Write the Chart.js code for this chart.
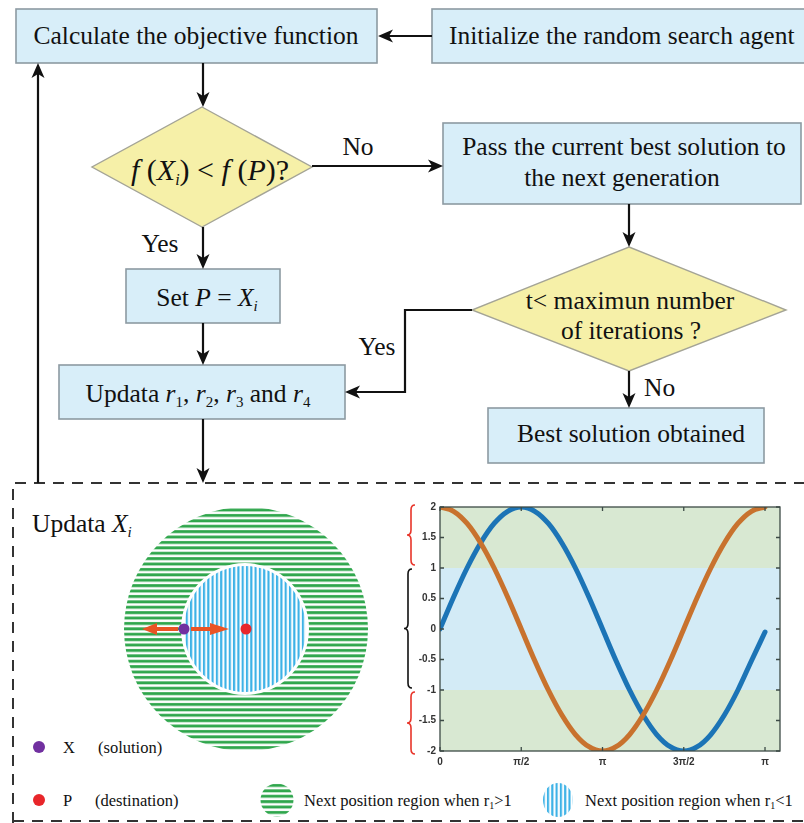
<!DOCTYPE html>
<html><head><meta charset="utf-8">
<script src="https://cdn.jsdelivr.net/npm/chart.js@4"></script>
<style>
html,body{margin:0;padding:0;background:#fff;width:804px;height:823px;overflow:hidden}
#flow{position:absolute;left:0;top:0}
#chartBox{position:absolute;left:400px;top:495px;width:404px;height:285px}
</style></head><body>
<svg id="flow" width="804" height="823" xmlns="http://www.w3.org/2000/svg" font-family="'Liberation Serif','Times New Roman',serif" fill="#111">
<defs>
  <pattern id="hs" patternUnits="userSpaceOnUse" width="12" height="5.4"><rect x="0" y="1" width="12" height="2.9" fill="#2fa64c"/></pattern>
  <pattern id="vs" patternUnits="userSpaceOnUse" width="4.3" height="12"><rect x="0.8" y="0" width="2.2" height="12" fill="#3db2e6"/></pattern>
  <mask id="hole"><rect x="0" y="480" width="804" height="343" fill="#fff"/><ellipse cx="245" cy="629" rx="64" ry="66" fill="#000"/></mask>
</defs>
<g id="shapes"></g>
<g id="t1" font-size="25.5">
  <text x="196" y="44" text-anchor="middle">Calculate the objective function</text>
  <text x="449" y="44">Initialize the random search agent</text>
  <text x="358" y="155" text-anchor="middle">No</text>
  <text x="624" y="155" text-anchor="middle">Pass the current best solution to</text>
  <text x="622" y="186" text-anchor="middle">the next generation</text>
  <text x="210" y="180" text-anchor="middle" font-size="30"><tspan font-style="italic">f</tspan> (<tspan font-style="italic">X</tspan><tspan font-style="italic" font-size="16" dy="5">i</tspan><tspan dy="-5">) &lt; </tspan><tspan font-style="italic">f</tspan> (<tspan font-style="italic">P</tspan>)?</text>
  <text x="160" y="252" text-anchor="middle">Yes</text>
  <text x="207" y="306" text-anchor="middle">Set <tspan font-style="italic">P</tspan> = <tspan font-style="italic">X</tspan><tspan font-style="italic" font-size="15" dy="5">i</tspan></text>
  <text x="630" y="309" text-anchor="middle">t&lt; maximun number</text>
  <text x="631" y="339" text-anchor="middle">of iterations ?</text>
  <text x="377" y="355" text-anchor="middle">Yes</text>
  <text x="198" y="402" text-anchor="middle">Updata <tspan font-style="italic">r</tspan><tspan font-size="15" dy="5">1</tspan><tspan dy="-5">,  </tspan><tspan font-style="italic">r</tspan><tspan font-size="15" dy="5">2</tspan><tspan dy="-5">,  </tspan><tspan font-style="italic">r</tspan><tspan font-size="15" dy="5">3</tspan><tspan dy="-5"> and </tspan><tspan font-style="italic">r</tspan><tspan font-size="15" dy="5">4</tspan></text>
  <text x="644" y="396">No</text>
  <text x="631" y="442" text-anchor="middle">Best  solution obtained</text>
  <text x="32" y="532">Updata <tspan font-style="italic">X</tspan><tspan font-style="italic" font-size="15" dy="5">i</tspan></text>
</g>
<g id="t2" font-size="16.5">
  <text x="63" y="753">X</text>
  <text x="98" y="753">(solution)</text>
  <text x="63" y="806">P</text>
  <text x="95" y="806">(destination)</text>
  <text x="304" y="806">Next position region when r<tspan font-size="10" dy="3">1</tspan><tspan dy="-3">&gt;1</tspan></text>
  <text x="585" y="806">Next position region when r<tspan font-size="10" dy="3">1</tspan><tspan dy="-3">&lt;1</tspan></text>
</g>
</svg>
<div id="chartBox"><canvas id="c"></canvas></div>
<script>
// ---- data ----
const xDegrees = [0,15,30,45,60,75,90,105,120,135,150,165,180,195,210,225,240,255,270,285,300,315,330,345,360];
const blueSeries = [0,0.52,1.00,1.41,1.73,1.93,2.00,1.93,1.73,1.41,1.00,0.52,0.00,-0.52,-1.00,-1.41,-1.73,-1.93,-2.00,-1.93,-1.73,-1.41,-1.00,-0.52,-0.05];
const orangeSeries = [2.00,1.93,1.73,1.41,1.00,0.52,0.00,-0.52,-1.00,-1.41,-1.73,-1.93,-2.00,-1.93,-1.73,-1.41,-1.00,-0.52,0.00,0.52,1.00,1.41,1.73,1.93,2.00];
const xTickValues = [0,90,180,270,360];
const xTickLabels = ['0','\u03c0/2','\u03c0','3\u03c0/2','\u03c0'];
const yTickValues = [2,1.5,1,0.5,0,-0.5,-1,-1.5,-2];
const bandEdges = [2,1,-1,-2];

// ---- flowchart shapes ----
const NS='http://www.w3.org/2000/svg';
const g=document.getElementById('shapes');
function el(tag,attrs){const e=document.createElementNS(NS,tag);for(const k in attrs)e.setAttribute(k,attrs[k]);g.appendChild(e);return e;}
function box(x1,y1,x2,y2){el('rect',{x:x1,y:y1,width:x2-x1,height:y2-y1,fill:'#d8eef9',stroke:'#8d9aa2','stroke-width':1.6});}
function diamond(cx,cy,hw,ht,hb){el('polygon',{points:`${cx},${cy-ht} ${cx+hw},${cy} ${cx},${cy+hb} ${cx-hw},${cy}`,fill:'#f6f0a8',stroke:'#a4a496','stroke-width':1.4});}
function arrow(pts){
  const n=pts.length;const [tx,ty]=pts[n-1];const [px,py]=pts[n-2];
  let dx=tx-px,dy=ty-py;const len=Math.hypot(dx,dy);dx/=len;dy/=len;
  const L=15,W=6.5,N=4;const nx=-dy,ny=dx;
  const pl=pts.slice(0,n-1).concat([[tx-(L-N)*dx,ty-(L-N)*dy]]);
  el('polyline',{points:pl.map(p=>p.join(',')).join(' '),fill:'none',stroke:'#111','stroke-width':2.2});
  el('polygon',{points:`${tx},${ty} ${tx-L*dx+W*nx},${ty-L*dy+W*ny} ${tx-(L-N)*dx},${ty-(L-N)*dy} ${tx-L*dx-W*nx},${ty-L*dy-W*ny}`,fill:'#111'});
}
el('path',{d:'M13,823 L13,483 L804,483 M13,821 L804,821',fill:'none',stroke:'#333','stroke-width':2,'stroke-dasharray':'11 8'});
el('circle',{cx:246,cy:629,r:122,fill:'url(#hs)',mask:'url(#hole)'});
el('ellipse',{cx:245,cy:629,rx:61,ry:63,fill:'url(#vs)'});
el('polygon',{points:'178,627 157,627 157,623 142,629 157,635 157,631 178,631',fill:'#ea5424'});
el('polygon',{points:'191,627 210,627 210,623 229,629 210,635 210,631 191,631',fill:'#ea5424'});
el('circle',{cx:184,cy:629,r:5.5,fill:'#7130a0'});
el('circle',{cx:246,cy:629,r:5.5,fill:'#e8262a'});
el('circle',{cx:39,cy:747,r:6,fill:'#7130a0'});
el('circle',{cx:39,cy:800,r:6,fill:'#e8262a'});
el('circle',{cx:277,cy:800,r:16.5,fill:'url(#hs)'});
el('ellipse',{cx:558,cy:800,rx:15,ry:17,fill:'url(#vs)'});
box(16,9,377,63);
box(432,9,808,63);
box(443,123,801,204);
box(126,269,280,323);
box(59,365,345,419);
box(488,408,764,463);
diamond(202,167,110,60,60);
diamond(629,310,157,63,61);
arrow([[432,36],[378,36]]);
arrow([[203,63],[203,107]]);
arrow([[312,166],[443,166]]);
arrow([[629,204],[629,247]]);
arrow([[472,310],[405,310],[405,392],[345,392]]);
arrow([[629,371],[629,408]]);
arrow([[203,227],[203,269]]);
arrow([[203,323],[203,365]]);
arrow([[203,419],[203,483]]);
arrow([[38,483],[38,63]]);
const svg=document.getElementById('flow');svg.appendChild(document.getElementById('t1'));svg.appendChild(document.getElementById('t2'));

// ---- chart ----
function brace(ctx,x,y1,y2,color){
  const m=(y1+y2)/2;
  ctx.save();ctx.strokeStyle=color;ctx.lineWidth=1.6;ctx.beginPath();
  ctx.moveTo(x+7,y1);ctx.quadraticCurveTo(x+3,y1,x+3,y1+5);
  ctx.lineTo(x+3,m-5);ctx.quadraticCurveTo(x+3,m,x-1,m);
  ctx.quadraticCurveTo(x+3,m,x+3,m+5);ctx.lineTo(x+3,y2-5);
  ctx.quadraticCurveTo(x+3,y2,x+7,y2);ctx.stroke();ctx.restore();
}
const decor={
  id:'decor',
  beforeDatasetsDraw(chart){
    const {ctx,chartArea:a,scales:{y}}=chart;
    const cols=['#d8e8d2','#d3ebf6','#d8e8d2'];
    for(let i=0;i<3;i++){
      const t=y.getPixelForValue(bandEdges[i]),b=y.getPixelForValue(bandEdges[i+1]);
      ctx.fillStyle=cols[i];ctx.fillRect(a.left,t,a.right-a.left,b-t);
    }
  },
  afterDatasetsDraw(chart){
    const {ctx,chartArea:a,scales:{x,y}}=chart;
    ctx.save();ctx.strokeStyle='#3c4a46';ctx.lineWidth=1.3;
    ctx.strokeRect(a.left,a.top,a.right-a.left,a.bottom-a.top);
    ctx.beginPath();
    yTickValues.forEach(v=>{const p=y.getPixelForValue(v);ctx.moveTo(a.left,p);ctx.lineTo(a.left+4,p);ctx.moveTo(a.right,p);ctx.lineTo(a.right-4,p);});
    xTickValues.forEach(v=>{const p=x.getPixelForValue(v);ctx.moveTo(p,a.bottom);ctx.lineTo(p,a.bottom-4);ctx.moveTo(p,a.top);ctx.lineTo(p,a.top+4);});
    ctx.stroke();ctx.restore();
    const y2=y.getPixelForValue(2),y1=y.getPixelForValue(1),ym1=y.getPixelForValue(-1),ym2=y.getPixelForValue(-2);
    brace(ctx,a.left-32,y2-2,y1-3,'#e8352a');
    brace(ctx,a.left-35,y1+1,ym1-2,'#111');
    brace(ctx,a.left-32,ym1+2,ym2+3,'#e8352a');
  }
};
new Chart(document.getElementById('c'),{
  type:'line',
  data:{datasets:[
    {data:xDegrees.map((d,i)=>({x:d,y:orangeSeries[i]})),borderColor:'#c8722e',borderWidth:5,pointRadius:0,cubicInterpolationMode:'monotone',borderCapStyle:'round'},
    {data:xDegrees.map((d,i)=>({x:d,y:blueSeries[i]})),borderColor:'#1c74b6',borderWidth:5,pointRadius:0,cubicInterpolationMode:'monotone',borderCapStyle:'round'}
  ]},
  options:{
    responsive:true,maintainAspectRatio:false,animation:false,
    layout:{padding:{top:12,right:24,bottom:9,left:0}},
    plugins:{legend:{display:false},tooltip:{enabled:false}},
    scales:{
      x:{type:'linear',min:0,max:376.6,
        afterBuildTicks(s){s.ticks=xTickValues.map(v=>({value:v}));},
        afterFit(s){s.height=20;},
        grid:{display:false,drawTicks:false},border:{display:false},
        ticks:{padding:5,maxRotation:0,autoSkip:false,color:'#333',font:{family:'Liberation Sans, Arial',size:10,weight:'bold'},
          callback:(v)=>xTickLabels[xTickValues.indexOf(v)]}},
      y:{min:-2,max:2,
        afterBuildTicks(s){s.ticks=yTickValues.map(v=>({value:v}));},
        afterFit(s){s.width=40;},
        grid:{display:false,drawTicks:false},border:{display:false},
        ticks:{padding:4,color:'#333',font:{family:'Liberation Sans, Arial',size:10,weight:'bold'},callback:(v)=>String(v)}}
    }
  },
  plugins:[decor]
});
</script>
</body></html>
